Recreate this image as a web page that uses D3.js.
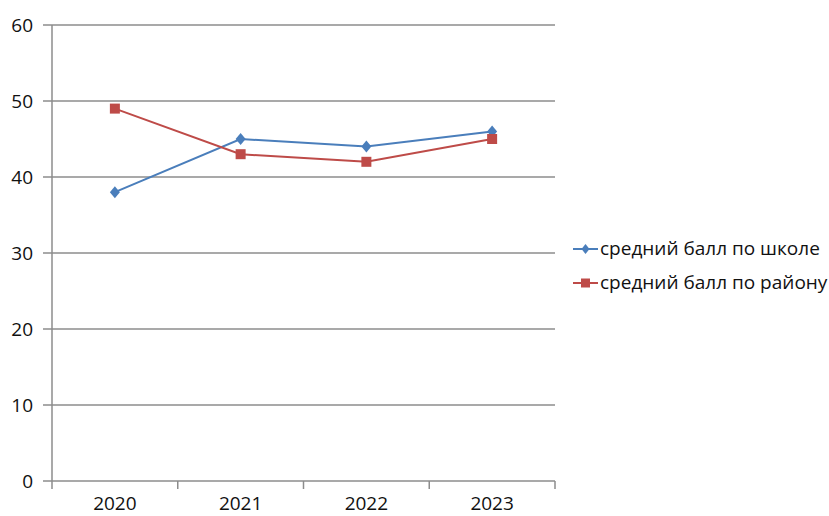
<!DOCTYPE html>
<html>
<head>
<meta charset="utf-8">
<script src="https://cdn.jsdelivr.net/npm/d3@7"></script>
<style>
body { margin: 0; background: #fff; }
text { font-family: "Open Sans", sans-serif; fill: #111; }
</style>
</head>
<body>
<svg></svg>
<script>
var width = 829;
var height = 516;

var years = ["2020", "2021", "2022", "2023"];
var school = [38, 45, 44, 46];
var district = [49, 43, 42, 45];
var yTicks = [0, 10, 20, 30, 40, 50, 60];
var seriesNames = ["средний балл по школе", "средний балл по району"];

var svg = d3.select("svg")
    .attr("width", width)
    .attr("height", height);

var x = d3.scaleBand().domain(years).range([52, 555]);
var y = d3.scaleLinear().domain([0, 60]).range([481, 25]);

// grid
svg.append("g")
    .selectAll("line")
    .data(yTicks)
    .enter()
    .append("line")
    .attr("x1", 43)
    .attr("x2", 555)
    .attr("y1", function(d) { return y(d); })
    .attr("y2", function(d) { return y(d); })
    .style("stroke", "#8c8c8c")
    .style("stroke-width", 1.5);

// y axis line
svg.append("line")
    .attr("x1", 52).attr("x2", 52)
    .attr("y1", y(60)).attr("y2", y(0))
    .style("stroke", "#8c8c8c")
    .style("stroke-width", 1.5);

// y labels
svg.append("g")
    .selectAll("text")
    .data(yTicks)
    .enter()
    .append("text")
    .attr("x", 33)
    .attr("y", function(d) { return y(d) + 7; })
    .attr("text-anchor", "end")
    .style("font-size", "19px")
    .text(function(d) { return d; });

// x ticks
var xt = years.map(function(d) { return x(d); }).concat([x.range()[1]]);
svg.append("g")
    .selectAll("line")
    .data(xt)
    .enter()
    .append("line")
    .attr("x1", function(d) { return d; })
    .attr("x2", function(d) { return d; })
    .attr("y1", 481)
    .attr("y2", 489)
    .style("stroke", "#8c8c8c")
    .style("stroke-width", 1.5);

svg.append("g")
    .selectAll("text")
    .data(years)
    .enter()
    .append("text")
    .attr("x", function(d) { return x(d) + x.bandwidth() / 2; })
    .attr("y", 510)
    .attr("text-anchor", "middle")
    .style("font-size", "19px")
    .text(function(d) { return d; });

var cx = function(d, i) { return x(years[i]) + x.bandwidth() / 2; };
var line = d3.line().x(cx).y(function(d) { return y(d); });

var blue = "#4a7ebb", red = "#be4b48";

svg.append("path").datum(school)
    .attr("d", line)
    .style("fill", "none").style("stroke", blue).style("stroke-width", 2);
svg.append("path").datum(district)
    .attr("d", line)
    .style("fill", "none").style("stroke", red).style("stroke-width", 2);

var diamond = "M0,-6L5,0L0,6L-5,0Z";

svg.append("g").selectAll("path")
    .data(school).enter().append("path")
    .attr("d", diamond)
    .attr("transform", function(d, i) { return "translate(" + cx(d, i) + "," + y(d) + ")"; })
    .style("fill", blue);

svg.append("g").selectAll("rect")
    .data(district).enter().append("rect")
    .attr("x", function(d, i) { return cx(d, i) - 5; })
    .attr("y", function(d) { return y(d) - 5; })
    .attr("width", 10).attr("height", 10)
    .style("fill", red);

// legend
var legend = svg.selectAll("g.legend")
    .data(seriesNames)
    .enter()
    .append("g")
    .attr("class", "legend")
    .attr("transform", function(d, i) { return "translate(0," + (249 + i * 34) + ")"; });

legend.append("line")
    .attr("x1", 573).attr("x2", 598)
    .attr("y1", 0).attr("y2", 0)
    .style("stroke", function(d, i) { return i ? red : blue; })
    .style("stroke-width", 2);

legend.append("path")
    .attr("d", function(d, i) { return i ? "M-4.5,-4.5H4.5V4.5H-4.5Z" : "M0,-5L4,0L0,5L-4,0Z"; })
    .attr("transform", "translate(585.5,0)")
    .style("fill", function(d, i) { return i ? red : blue; });

legend.append("text")
    .attr("x", 600)
    .attr("y", 6)
    .style("font-size", "19px")
    .text(function(d) { return d; });
</script>
</body>
</html>
